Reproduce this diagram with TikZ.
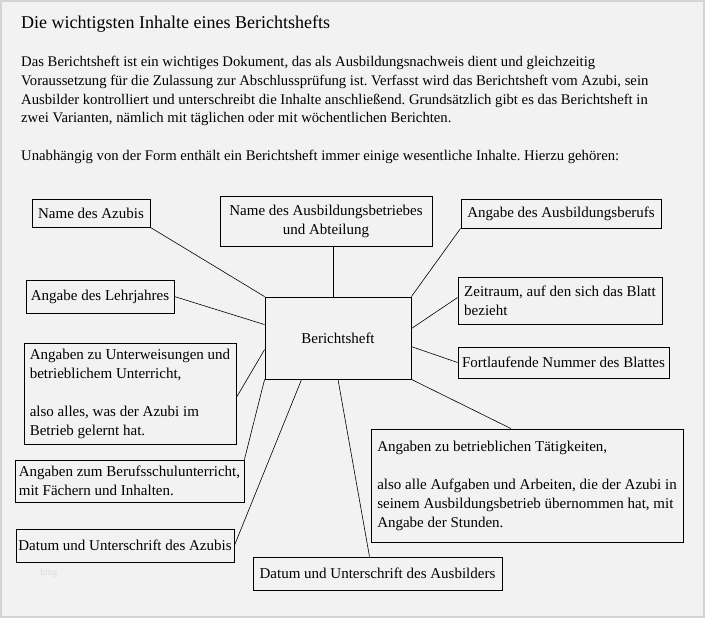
\documentclass[tikz,border=0pt]{standalone}
\usepackage{fontspec}
\setmainfont{Liberation Serif}
\usepackage{tikz}
\usetikzlibrary{positioning}
\frenchspacing
\newcommand{\kastenschrift}{\fontsize{15}{19}\selectfont}
\newcommand{\fliessschrift}{\fontsize{14.7}{18.8}\selectfont}
\tikzset{
  kasten/.style={draw, line width=0.8pt, inner sep=0pt, align=left, font=\kastenschrift},
  linie/.style={line width=0.6pt},
  fliesstext/.style={anchor=base west, inner sep=0pt, font=\fliessschrift}
}

\begin{document}
\begin{tikzpicture}[x=1pt, y=-1pt]
    \useasboundingbox (0,0) rectangle (705,618);
    % ---- HINTERGRUND ----
    \draw[line width=2pt, draw=black!17, fill=black!5] (1,1) rectangle (704,617);

    % ---- TEXT OBEN ----
    \node[anchor=base west, inner sep=0pt, font=\fontsize{18}{22}\selectfont] (titel) at (21,28.5)
        {Die wichtigsten Inhalte eines Berichtshefts};
    \node[fliesstext] (zeile1) at (21,66.5)
        {Das Berichtsheft ist ein wichtiges Dokument, das als Ausbildungsnachweis dient und gleichzeitig};
    \node[fliesstext] (zeile2) at (21,85.3)
        {Voraussetzung für die Zulassung zur Abschlussprüfung ist. Verfasst wird das Berichtsheft vom Azubi, sein};
    \node[fliesstext] (zeile3) at (21,104.1)
        {Ausbilder kontrolliert und unterschreibt die Inhalte anschließend. Grundsätzlich gibt es das Berichtsheft in};
    \node[fliesstext] (zeile4) at (21,122.9)
        {zwei Varianten, nämlich mit täglichen oder mit wöchentlichen Berichten.};
    \node[fliesstext] (zeile5) at (21,160.5)
        {Unabhängig von der Form enthält ein Berichtsheft immer einige wesentliche Inhalte. Hierzu gehören:};

    % ---- MITTE ----
    \node[kasten, align=center, minimum width=146pt, minimum height=82pt] (heft) at (338,338) {Berichtsheft};

    % ---- KAESTEN OBEN ----
    \node[kasten, minimum width=118pt, minimum height=28pt] (azubi) at (91,213) {Name des Azubis};
    \node[kasten, align=center, minimum width=212pt, minimum height=50pt] (betrieb) at (326,221)
        {Name des Ausbildungsbetriebes\\und Abteilung};
    \node[kasten, minimum width=200pt, minimum height=29pt] (beruf) at (561,213.5) {Angabe des Ausbildungsberufs};

    % ---- KAESTEN LINKS ----
    \node[kasten, minimum width=148pt, minimum height=33pt] (lehr) at (100,296.5) {Angabe des Lehrjahres};
    \node[kasten, minimum width=212pt, minimum height=101pt] (unterw) at (130,393.5)
        {Angaben zu Unterweisungen und\\betrieblichem Unterricht,\\[19pt]also alles, was der Azubi im\\Betrieb gelernt hat.};
    \node[kasten, minimum width=229pt, minimum height=42pt] (schule) at (129.5,481)
        {Angaben zum Berufsschulunterricht,\\mit Fächern und Inhalten.};
    \node[kasten, minimum width=218pt, minimum height=33pt] (datumazubi) at (125,545.5)
        {Datum und Unterschrift des Azubis};

    % ---- KAESTEN RECHTS ----
    \node[kasten, minimum width=204pt, minimum height=47pt] (zeit) at (560,300.5)
        {Zeitraum, auf den sich das Blatt\\bezieht};
    \node[kasten, minimum width=211pt, minimum height=31pt] (nummer) at (563.5,362.5)
        {Fortlaufende Nummer des Blattes};
    \node[kasten, minimum width=312pt, minimum height=113pt] (taet) at (527,485.5)
        {Angaben zu betrieblichen Tätigkeiten,\\[19pt]also alle Aufgaben und Arbeiten, die der Azubi in\\seinem Ausbildungsbetrieb übernommen hat, mit\\Angabe der Stunden.};
    \node[kasten, minimum width=249pt, minimum height=33pt] (ausb) at (377.5,573.5)
        {Datum und Unterschrift des Ausbilders};

    % ---- WASSERZEICHEN ----
    \node[font=\sffamily\fontsize{10}{12}\selectfont, text=black!13, inner sep=0pt] (blog) at (49,573) {blog};

    % ---- VERBINDUNGEN ----
    \draw[linie] (azubi.south east) -- (heft.north west);
    \draw[linie] ([xshift=7pt]betrieb.south) -- ([xshift=-5pt]heft.north);
    \draw[linie] (beruf.south west) -- (heft.north east);
    \draw[linie] (lehr.east) -- ([yshift=-28pt]heft.north west);
    \draw[linie] ([yshift=-4pt]unterw.east) -- ([yshift=-53pt]heft.north west);
    \draw[linie] ([yshift=3pt]zeit.west) -- ([yshift=-32pt]heft.north east);
    \draw[linie] ([yshift=-50pt]heft.north east) -- (nummer.west);
    \draw[linie] (heft.south east) -- ([xshift=-16pt]taet.north);
    \draw[linie] (heft.south west) -- (schule.north east);
    \draw[linie] ([xshift=37pt]heft.south west) -- (datumazubi.east);
    \draw[linie] (heft.south) -- ([xshift=-8pt]ausb.north);
\end{tikzpicture}
\end{document}
